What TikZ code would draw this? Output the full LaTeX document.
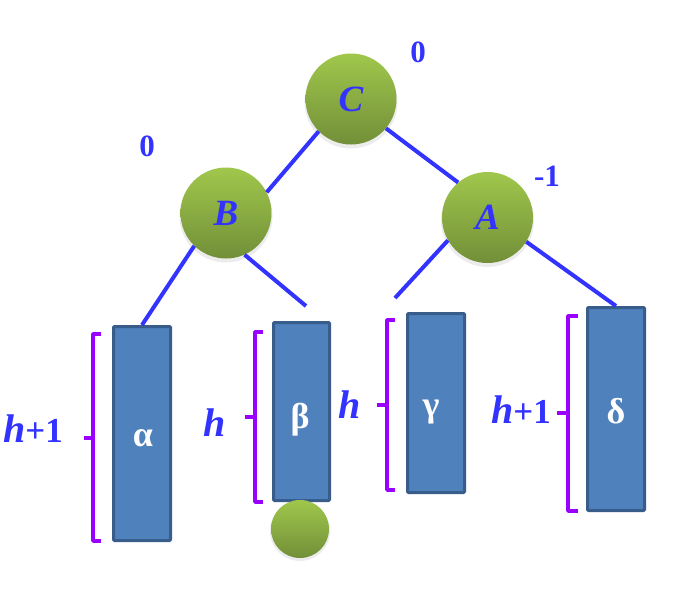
\documentclass[tikz,border=0pt]{standalone}
\usepackage{fontspec}
\setmainfont{Liberation Serif}
\newfontfamily\tnr{Liberation Serif}
\definecolor{edgeblue}{RGB}{51,51,255}
\definecolor{bracepurple}{RGB}{153,0,255}
\definecolor{boxfill}{RGB}{79,129,189}
\definecolor{boxline}{RGB}{56,93,138}
\definecolor{greentop}{RGB}{160,199,76}
\definecolor{greenbot}{RGB}{114,143,56}
\definecolor{shade1}{RGB}{236,236,236}
\newcommand\hvar{{\tnr\fontsize{40}{40}\selectfont\bfseries\itshape h}}
\begin{document}
\begin{tikzpicture}[x=1pt,y=-1pt,
  vertex/.style={circle, inner sep=0pt, minimum size=91pt,
    top color=greentop, bottom color=greenbot,
    text=edgeblue, font=\tnr\fontsize{37}{37}\selectfont\bfseries\itshape},
  rim/.style={fill=shade1},
  subtree/.style={rectangle, inner sep=0pt, draw=boxline, line width=3pt,
    fill=boxfill, rounded corners=1pt},
  greek/.style={text=white, inner sep=0pt, font=\tnr\fontsize{36}{36}\selectfont\bfseries},
  balance/.style={text=edgeblue, inner sep=0pt, font=\tnr\fontsize{31}{31}\selectfont\bfseries},
  hlabel/.style={text=edgeblue, inner sep=0pt, font=\tnr\fontsize{35}{35}\selectfont\bfseries},
  edge/.style={draw=edgeblue, line width=4pt},
  brace/.style={draw=bracepurple, line width=3.5pt, line join=round}
]
\fill[white] (0,0) rectangle (674,611);
\useasboundingbox (0,0) rectangle (674,611);

% soft shadows under the tree nodes
\fill[rim] (351,102) circle (46.5pt);
\fill[rim] (226,216) circle (46.5pt);
\fill[rim] (487.5,220.5) circle (46.5pt);
\fill[rim] (300,531) circle (30pt);

% subtrees
\node[subtree, minimum width=57pt, minimum height=214pt] (alpha) at (142,433.5) {};
\node[subtree, minimum width=56pt, minimum height=178pt] (beta)  at (301.5,411.5) {};
\node[subtree, minimum width=57pt, minimum height=179pt] (gamma) at (436,403) {};
\node[subtree, minimum width=57pt, minimum height=203pt] (delta) at (616,409) {};
\node[greek] (alphaL) at (143,438) {α};
\node[greek] (betaL)  at (300,420) {β};
\node[greek] (gammaL) at (431,412) {γ};
\node[greek] (deltaL) at (616,411) {δ};

% tree nodes
\node[vertex] (C) at (351,99) {C};
\node[vertex] (B) at (226,213) {B};
\node[vertex] (A) at (487.5,217.5) {A};
\node[vertex, minimum size=58pt] (leaf) at (300,529) {};

% free ends of the short edges
\coordinate (bfree) at (306,306);
\coordinate (gfree) at (395,298);

% edges
\draw[edge] (C.-135) -- (B.27);
\draw[edge] (C.-40) -- (A.130);
\draw[edge] (B.-134) -- (alpha.north);
\draw[edge] (B.-66) -- (bfree);
\draw[edge] (A.-150) -- (gfree);
\draw[edge] (A.-32) -- (delta.north);

% balance factors
\node[balance] (balC) at (418,52) {0};
\node[balance] (balB) at (147,146) {0};
\node[balance] (balA) at (547,176) {-1};

% height brackets
\draw[brace] (101,334) -- (93,334) -- (93,541) -- (101,541);
\draw[brace] (93,438) -- (84,438);
\draw[brace] (263,332) -- (255,332) -- (255,502) -- (263,502);
\draw[brace] (255,417) -- (245,417);
\draw[brace] (395,320) -- (387,320) -- (387,490) -- (395,490);
\draw[brace] (387,405) -- (377,405);
\draw[brace] (578,316) -- (568,316) -- (568,511) -- (578,511);
\draw[brace] (568,413) -- (557,413);

% height labels
\node[hlabel, anchor=base] (hA) at (33,442) {\hvar+1};
\node[hlabel, anchor=base] (hB) at (215,436) {\hvar};
\node[hlabel, anchor=base] (hG) at (350,418) {\hvar};
\node[hlabel, anchor=base] (hD) at (521,423) {\hvar+1};
\end{tikzpicture}
\end{document}
